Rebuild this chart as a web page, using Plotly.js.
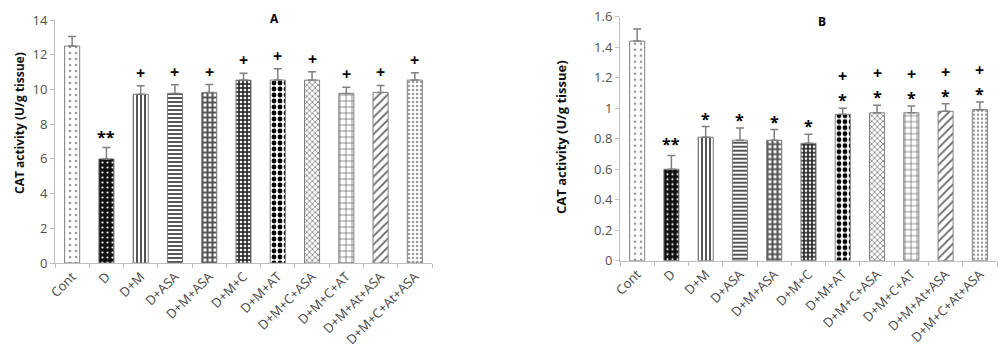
<!DOCTYPE html>
<html>
<head>
<meta charset="utf-8">
<script src="https://cdn.plot.ly/plotly-3.0.1.min.js"></script>
<style>html,body{margin:0;padding:0;background:#fff;}#chart{width:1000px;height:360px;}</style>
</head>
<body>
<div id="chart"></div>
<script>
// ---- data ----
const categories = ["Cont","D","D+M","D+ASA","D+M+ASA","D+M+C","D+M+AT","D+M+C+ASA","D+M+C+AT","D+M+At+ASA","D+M+C+At+ASA"];
const valuesA = [12.5, 6.0, 9.72, 9.77, 9.83, 10.54, 10.54, 10.54, 9.77, 9.83, 10.54];
const errorsA = [0.55, 0.65, 0.5, 0.5, 0.45, 0.4, 0.65, 0.48, 0.35, 0.4, 0.42];
const valuesB = [1.44, 0.60, 0.81, 0.79, 0.79, 0.77, 0.96, 0.97, 0.97, 0.98, 0.99];
const errorsB = [0.08, 0.09, 0.07, 0.08, 0.07, 0.06, 0.04, 0.05, 0.045, 0.05, 0.05];
const marksA = ["", "**", "+", "+", "+", "+", "+", "+", "+", "+", "+"];
const marksB_star = ["", "**", "*", "*", "*", "*", "*", "*", "*", "*", "*"];
const marksB_plus = ["", "", "", "", "", "", "+", "+", "+", "+", "+"];
const yTitle = "CAT activity (U/g tissue)";
const panelTitles = ["A", "B"];

// ---- styles ----
const pat = {
  shape:    [".", ".", "|", "-", "+", ".", ".", "x", "+", "/", "."],
  fgcolor:  ["#9a9a9a", "#ffffff", "#555555", "#555555", "#555555", "#ffffff", "#000000", "#8a8a8a", "#555555", "#666666", "#9a9a9a"],
  bgcolor:  ["#ffffff", "#111111", "#ffffff", "#ffffff", "#ffffff", "#333333", "#ffffff", "#ffffff", "#ffffff", "#ffffff", "#ffffff"],
  size:     [6, 5, 4, 4, 5, 4, 6, 4, 6, 6, 4],
  solidity: [0.15, 0.15, 0.5, 0.5, 0.65, 0.3, 0.5, 0.4, 0.2, 0.3, 0.3],
  fillmode: "replace"
};
const font = "Open Sans, DejaVu Sans, sans-serif";

function barTrace(vals, errs, xa, ya) {
  return {
    type: "bar", x: categories, y: vals, xaxis: xa, yaxis: ya,
    marker: { color: "#ffffff", line: { color: "#808080", width: 1 }, pattern: pat },
    error_y: { type: "data", symmetric: false, array: errs, arrayminus: errs.map(() => 0),
               color: "#808080", thickness: 1.5, width: 4 },
    hoverinfo: "skip", showlegend: false
  };
}

const data = [barTrace(valuesA, errorsA, "x", "y"), barTrace(valuesB, errorsB, "x2", "y2")];

const ann = [];
categories.forEach((c, i) => {
  if (marksA[i]) ann.push({ x: c, y: valuesA[i] + errorsA[i], xref: "x", yref: "y", text: "<b>" + marksA[i] + "</b>",
    showarrow: false, yanchor: "middle", yshift: marksA[i] === "**" ? 11 : 13, font: { family: font, size: 16, color: "#000" } });
  if (marksB_star[i]) ann.push({ x: c, y: valuesB[i] + errorsB[i], xref: "x2", yref: "y2", text: "<b>" + marksB_star[i] + "</b>",
    showarrow: false, yanchor: "middle", yshift: marksB_star[i] === "**" ? 11 : 8, font: { family: font, size: 16, color: "#000" } });
  if (marksB_plus[i]) ann.push({ x: c, y: valuesB[i] + errorsB[i], xref: "x2", yref: "y2", text: "<b>" + marksB_plus[i] + "</b>",
    showarrow: false, yanchor: "middle", yshift: 32, font: { family: font, size: 16, color: "#000" } });
});
ann.push({ x: 0.268, y: 0.978, xref: "paper", yref: "paper", text: "<b>" + panelTitles[0] + "</b>", showarrow: false,
  font: { family: font, size: 12, color: "#000" } });
ann.push({ x: 0.828, y: 0.97, xref: "paper", yref: "paper", text: "<b>" + panelTitles[1] + "</b>", showarrow: false,
  font: { family: font, size: 12, color: "#000" } });
ann.push({ x: 0.009, y: (360 - 123.5) / 360, xref: "paper", yref: "paper", text: "<b>" + yTitle + "</b>", textangle: -90,
  showarrow: false, font: { family: font, size: 12, color: "#111" } });
ann.push({ x: 0.561, y: (360 - 137) / 360, xref: "paper", yref: "paper", text: "<b>" + yTitle + "</b>", textangle: -90,
  showarrow: false, font: { family: font, size: 13, color: "#111" } });

const xCommon = {
  type: "category", showgrid: false, showline: true, linecolor: "#bfbfbf", linewidth: 1,
  ticks: "outside", tickson: "boundaries", ticklen: 4, tickcolor: "#bfbfbf",
  tickangle: -45, tickfont: { family: font, size: 13, color: "#444444" }, automargin: false
};
const yCommon = {
  showgrid: false, zeroline: false, showline: true, linecolor: "#bfbfbf", linewidth: 1,
  ticks: "outside", ticklen: 4, tickcolor: "#bfbfbf",
  tickfont: { family: font, size: 13, color: "#505050" }, automargin: false
};

const layout = {
  width: 1000, height: 360,
  margin: { l: 0, r: 0, t: 0, b: 0 },
  paper_bgcolor: "#ffffff", plot_bgcolor: "#ffffff",
  bargap: 0.56,
  xaxis: Object.assign({}, xCommon, { domain: [0.055, 0.432], anchor: "y" }),
  yaxis: Object.assign({}, yCommon, { domain: [0.2694, 0.9444], range: [0, 14], dtick: 2, anchor: "x" }),
  xaxis2: Object.assign({}, xCommon, { domain: [0.62, 0.997], anchor: "y2" }),
  yaxis2: Object.assign({}, yCommon, { domain: [0.2758, 0.9536], range: [0, 1.6], dtick: 0.2, anchor: "x2" }),
  annotations: ann
};

Plotly.newPlot("chart", data, layout, { displayModeBar: false, staticPlot: true });
</script>
</body>
</html>
